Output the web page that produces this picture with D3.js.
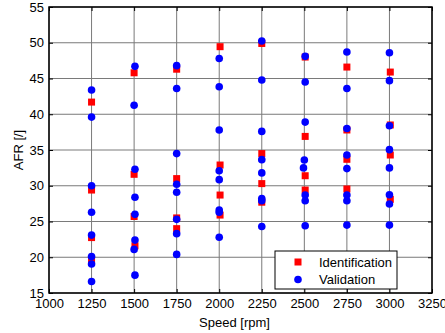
<!DOCTYPE html>
<html>
<head>
<meta charset="utf-8">
<script src="https://cdn.jsdelivr.net/npm/d3@7"></script>
<style>
  body { margin: 0; background: #fff; }
  svg text { font-family: "Liberation Sans", Arial, sans-serif; }
</style>
</head>
<body>
<svg id="chart" width="445" height="333"></svg>
<script>
// data
const xTicks = [1000, 1250, 1500, 1750, 2000, 2250, 2500, 2750, 3000, 3250];
const yTicks = [15, 20, 25, 30, 35, 40, 45, 50, 55];

const idSpeed = [
  1250, 1250, 1250, 1250,
  1500, 1500, 1500, 1505,
  1750, 1750, 1750, 1750,
  2005, 2005, 2005, 2005,
  2250, 2250, 2250, 2250,
  2505, 2505, 2505, 2505,
  2750, 2750, 2750, 2750,
  3005, 3005, 3005, 3005
];
const idAfr = [
  41.7, 29.4, 22.75, 19.6,
  45.8, 31.6, 25.7, 21.6,
  46.3, 31.0, 25.5, 24.0,
  49.45, 32.9, 28.7, 25.9,
  49.9, 34.5, 30.3, 27.7,
  48.0, 36.9, 31.4, 29.4,
  46.6, 37.8, 33.7, 29.55,
  45.9, 38.5, 34.3, 28.1
];

const valSpeed = [
  1250, 1250, 1250, 1250, 1250, 1250, 1250, 1250,
  1505, 1500, 1505, 1505, 1505, 1505, 1500, 1505,
  1750, 1750, 1750, 1750, 1750, 1750, 1750, 1750,
  2000, 2000, 2000, 2000, 2000, 2000, 2000, 2000,
  2250, 2250, 2250, 2250, 2250, 2250, 2250, 2250,
  2505, 2505, 2505, 2500, 2495, 2505, 2505, 2505,
  2750, 2750, 2750, 2750, 2750, 2750, 2750, 2750,
  3000, 3000, 3000, 3000, 3000, 3000, 3000, 3000
];
const valAfr = [
  43.4, 39.6, 30.0, 26.3, 23.1, 20.1, 19.05, 16.6,
  46.7, 41.25, 32.3, 28.4, 26.0, 22.4, 21.1, 17.5,
  46.8, 43.6, 34.5, 30.2, 29.1, 25.3, 23.3, 20.4,
  47.8, 43.85, 37.8, 32.1, 30.85, 26.6, 26.3, 22.8,
  50.25, 44.8, 37.6, 33.65, 31.8, 28.2, 27.9, 24.3,
  48.1, 44.5, 38.9, 33.6, 32.5, 28.7, 27.9, 24.4,
  48.7, 43.6, 38.0, 34.3, 32.4, 28.7, 27.9, 24.5,
  48.6, 44.7, 38.4, 35.05, 32.5, 28.75, 27.45, 24.5
];

const seriesNames = ["Identification", "Validation"];

const margin = { top: 7, right: 13, bottom: 40, left: 49 };
const W = 445, H = 333;
const width = W - margin.left - margin.right;
const height = H - margin.top - margin.bottom;

const svg = d3.select("#chart");
const g = svg.append("g").attr("transform", `translate(${margin.left},${margin.top})`);

const x = d3.scaleLinear().domain([1000, 3250]).range([0, width]);
const y = d3.scaleLinear().domain([15, 55]).range([height, 0]);

// grid
g.append("g")
  .selectAll("line")
  .data(xTicks)
  .join("line")
  .attr("x1", (d) => x(d)).attr("x2", (d) => x(d))
  .attr("y1", 0).attr("y2", height)
  .attr("stroke", "#7a7a7a").attr("stroke-width", 1);
g.append("g")
  .selectAll("line")
  .data(yTicks)
  .join("line")
  .attr("y1", (d) => y(d)).attr("y2", (d) => y(d))
  .attr("x1", 0).attr("x2", width)
  .attr("stroke", "#7a7a7a").attr("stroke-width", 1);

// axes with inward ticks
const tick = 4;
const fmt = d3.format("d");
const xb = g.append("g").attr("transform", `translate(0,${height})`)
  .call(d3.axisBottom(x).tickValues(xTicks).tickSizeInner(-tick).tickSizeOuter(0).tickPadding(8).tickFormat(fmt));
const xt = g.append("g")
  .call(d3.axisTop(x).tickValues(xTicks).tickSizeInner(-tick).tickSizeOuter(0).tickFormat(""));
const yl = g.append("g")
  .call(d3.axisLeft(y).tickValues(yTicks).tickSizeInner(-tick).tickSizeOuter(0).tickPadding(5).tickFormat(fmt));
const yr = g.append("g").attr("transform", `translate(${width},0)`)
  .call(d3.axisRight(y).tickValues(yTicks).tickSizeInner(-tick).tickSizeOuter(0).tickFormat(""));

[xb, xt, yl, yr].forEach((a) => {
  a.select(".domain").remove();
  a.selectAll("line").attr("stroke", "#000");
  a.selectAll("text").attr("fill", "#000").style("font-size", "13px");
});
xb.selectAll("text").attr("dy", "0.55em");

// box
g.append("rect")
  .attr("width", width).attr("height", height)
  .attr("fill", "none").attr("stroke", "#000").attr("stroke-width", 1.5);

// identification (red squares)
const sq = 7;
g.append("g")
  .selectAll("rect")
  .data(idSpeed.map((s, i) => [s, idAfr[i]]))
  .join("rect")
  .attr("x", (d) => x(d[0]) - sq / 2)
  .attr("y", (d) => y(d[1]) - sq / 2)
  .attr("width", sq).attr("height", sq)
  .attr("fill", "#ff0000");

// validation (blue circles)
g.append("g")
  .selectAll("circle")
  .data(valSpeed.map((s, i) => [s, valAfr[i]]))
  .join("circle")
  .attr("cx", (d) => x(d[0]))
  .attr("cy", (d) => y(d[1]))
  .attr("r", 3.8)
  .attr("fill", "#0000ff");

// axis labels
svg.append("text")
  .attr("x", margin.left + width / 2 - 6).attr("y", 327)
  .attr("text-anchor", "middle").style("font-size", "13px")
  .text("Speed [rpm]");
svg.append("text")
  .attr("transform", `translate(22.5,${margin.top + height / 2}) rotate(-90)`)
  .attr("text-anchor", "middle").style("font-size", "13px")
  .text("AFR [/]");

// legend
const lg = svg.append("g").attr("transform", "translate(275,251)");
lg.append("rect")
  .attr("width", 122).attr("height", 38)
  .attr("fill", "#fff").attr("stroke", "#000").attr("stroke-width", 1);
lg.append("rect")
  .attr("x", 23 - sq / 2).attr("y", 11 - sq / 2)
  .attr("width", sq).attr("height", sq).attr("fill", "#ff0000");
lg.append("circle")
  .attr("cx", 23).attr("cy", 28.5).attr("r", 3.8).attr("fill", "#0000ff");
lg.selectAll("text.lab")
  .data(seriesNames)
  .join("text")
  .attr("class", "lab")
  .attr("x", 44).attr("y", (d, i) => 11 + i * 17.5)
  .attr("dy", "0.35em").style("font-size", "13px")
  .text((d) => d);
</script>
</body>
</html>
